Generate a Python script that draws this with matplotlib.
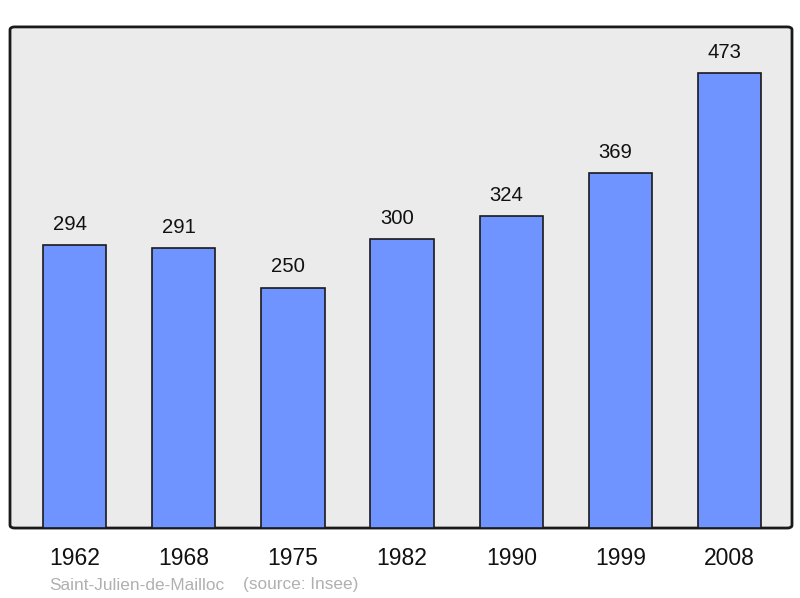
import matplotlib
matplotlib.use("Agg")
import matplotlib.pyplot as plt
from matplotlib.patches import FancyBboxPatch

years = ["1962", "1968", "1975", "1982", "1990", "1999", "2008"]
population = [294, 291, 250, 300, 324, 369, 473]
commune = "Saint-Julien-de-Mailloc"
source = "(source: Insee)"

plt.rcParams['font.family'] = ['Liberation Sans', 'DejaVu Sans']

fig = plt.figure(figsize=(8, 5.98), dpi=100)
ax = fig.add_axes([0.0125, 0.117, 0.9775, 0.838])
ax.set_facecolor('none')

# rounded background frame
frame = FancyBboxPatch((0.0, 0.0), 1.0, 1.0, boxstyle="round,pad=0,rounding_size=0.006",
                       transform=ax.transAxes, facecolor='#ebebeb', edgecolor='#1a1a1a',
                       linewidth=2, zorder=0, clip_on=False)
ax.add_patch(frame)

x = list(range(len(years)))
bars = ax.bar(x, population, width=0.58, color='#7094ff', edgecolor='#1a1a1a',
              linewidth=1.2, zorder=2)
for xi, v in zip(x, population):
    ax.annotate(str(v), (xi, v), xytext=(-3.5, 15), textcoords='offset points',
                ha='center', va='center', fontsize=14.6, color='#111111', zorder=3)

ax.set_xlim(-0.59, 6.57)
ax.set_ylim(0, 521)
ax.set_xticks(x)
ax.set_xticklabels(years, fontsize=16.5, color='#111111')
ax.tick_params(axis='x', length=0, pad=14)
ax.set_yticks([])
for s in ax.spines.values():
    s.set_visible(False)

fig.text(49/800, 1 - 585/598, commune, fontsize=12.4, color='#b0b0b0', ha='left', va='center')
fig.text(243/800, 1 - 585/598, source, fontsize=12.4, color='#b0b0b0', ha='left', va='center')

fig.savefig("out.png", dpi=100)
